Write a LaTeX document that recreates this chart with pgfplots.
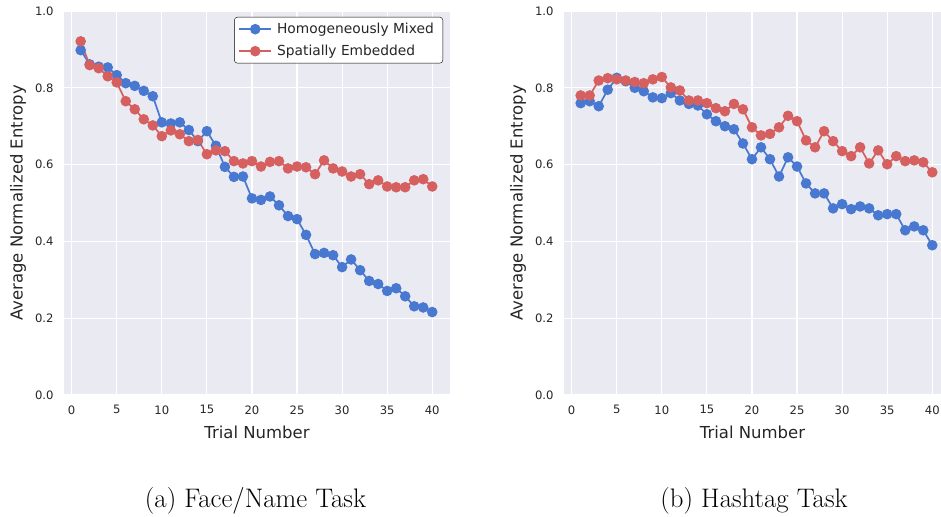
\documentclass[border=0pt]{standalone}
\usepackage{fontspec}
\usepackage{pgfplots}
\usepackage{pgfplotstable}
\pgfplotsset{compat=1.18}
\newfontfamily\djv{DejaVu Sans}

\definecolor{sbbg}{HTML}{EAEAF2}
\definecolor{sbblue}{HTML}{4878D0}
\definecolor{sbred}{HTML}{D65F5F}
\definecolor{sbtext}{HTML}{262626}

% Face/Name task: average normalized entropy per trial
\pgfplotstableread{
trial mixed spatial
1  0.898 0.921
2  0.861 0.859
3  0.855 0.851
4  0.853 0.830
5  0.833 0.814
6  0.812 0.765
7  0.805 0.744
8  0.792 0.718
9  0.778 0.702
10 0.710 0.674
11 0.707 0.689
12 0.710 0.679
13 0.690 0.661
14 0.661 0.664
15 0.687 0.627
16 0.649 0.637
17 0.594 0.635
18 0.568 0.609
19 0.569 0.603
20 0.512 0.609
21 0.508 0.595
22 0.517 0.607
23 0.494 0.609
24 0.466 0.590
25 0.458 0.595
26 0.417 0.593
27 0.367 0.575
28 0.370 0.611
29 0.364 0.590
30 0.333 0.582
31 0.353 0.569
32 0.325 0.575
33 0.297 0.549
34 0.289 0.559
35 0.271 0.543
36 0.278 0.541
37 0.257 0.541
38 0.231 0.559
39 0.228 0.562
40 0.216 0.543
}\facename

% Hashtag task: average normalized entropy per trial
\pgfplotstableread{
trial mixed spatial
1  0.760 0.780
2  0.765 0.780
3  0.752 0.819
4  0.795 0.825
5  0.826 0.822
6  0.817 0.819
7  0.800 0.815
8  0.791 0.812
9  0.775 0.822
10 0.773 0.828
11 0.786 0.801
12 0.767 0.793
13 0.758 0.767
14 0.754 0.767
15 0.731 0.760
16 0.713 0.747
17 0.700 0.739
18 0.692 0.758
19 0.655 0.744
20 0.614 0.697
21 0.645 0.676
22 0.614 0.680
23 0.569 0.697
24 0.619 0.727
25 0.595 0.713
26 0.551 0.663
27 0.525 0.645
28 0.525 0.687
29 0.486 0.661
30 0.497 0.635
31 0.484 0.622
32 0.491 0.645
33 0.486 0.603
34 0.468 0.637
35 0.471 0.601
36 0.471 0.622
37 0.429 0.609
38 0.439 0.611
39 0.429 0.606
40 0.390 0.580
}\hashtag

\pgfplotsset{
  sbaxis/.style={
    scale only axis, height=384pt, anchor=south west,
    ymin=0, ymax=1,
    ytick={0,0.2,0.4,0.6,0.8,1},
    xtick={0,5,10,15,20,25,30,35,40},
    axis background/.style={fill=sbbg},
    axis line style={draw=none},
    tick style={draw=none},
    grid=major,
    major grid style={white, line width=1.1pt},
    /pgf/number format/assume math mode=true,
    ticklabel style={font=\djv\fontsize{11.6}{14}\selectfont, text=sbtext},
    xticklabel style={yshift=-7pt},
    yticklabel style={xshift=-7pt, /pgf/number format/.cd, fixed, fixed zerofill, precision=1},
    xlabel={Trial Number},
    ylabel={Average Normalized Entropy},
    label style={font=\djv\fontsize{16.5}{19}\selectfont, text=sbtext},
    xlabel style={at={(rel axis cs:0.5,0)}, anchor=center, yshift=-37pt},
    ylabel style={at={(rel axis cs:0,0.5)}, anchor=center, yshift=46pt},
    every axis plot/.append style={line width=1.7pt, mark=*, mark size=4.4pt},
    legend image code/.code={
      \draw[line width=1.7pt, mark repeat=2, mark phase=2]
        plot coordinates {(0pt,0pt) (16pt,0pt) (32pt,0pt)};
    },
  },
  mixedline/.style={color=sbblue, mark options={fill=sbblue, draw=sbblue}},
  spatialline/.style={color=sbred, mark options={fill=sbred, draw=sbred}},
}

\begin{document}
\begin{tikzpicture}
\useasboundingbox (0pt,0pt) rectangle (941pt,516pt);

\begin{axis}[sbaxis, at={(64pt,121pt)}, width=386pt,
  xmin=-0.85, xmax=41.97,
  legend style={at={(rel axis cs:1,1)}, anchor=north east,
    xshift=-7pt, yshift=-6pt, draw=black,
    rounded corners=3pt, fill=white, text=sbtext,
    inner xsep=4pt, inner ysep=4pt, row sep=6pt,
    nodes={inner xsep=5pt},
    font=\djv\fontsize{13.8}{16}\selectfont},
  legend cell align=left]
  \addplot[mixedline] table[x=trial, y=mixed] {\facename};
  \addlegendentry{Homogeneously Mixed}
  \addplot[spatialline] table[x=trial, y=spatial] {\facename};
  \addlegendentry{Spatially Embedded}
\end{axis}

\begin{axis}[sbaxis, at={(564pt,121pt)}, width=377pt,
  xmin=-0.85, xmax=40.97]
  \addplot[mixedline] table[x=trial, y=mixed] {\hashtag};
  \addplot[spatialline] table[x=trial, y=spatial] {\hashtag};
\end{axis}

\node[anchor=base, font=\fontsize{26.8}{31}\selectfont] at (255.5pt,9pt) {(a) Face/Name Task};
\node[anchor=base, font=\fontsize{26.8}{31}\selectfont] at (754pt,9pt) {(b) Hashtag Task};
\end{tikzpicture}
\end{document}
